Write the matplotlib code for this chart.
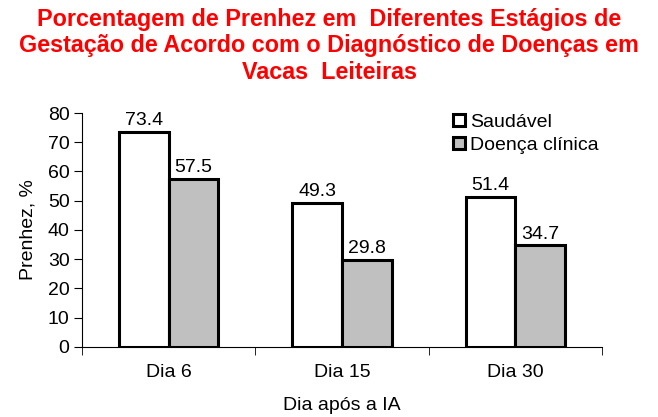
import numpy as np
import matplotlib
matplotlib.use("Agg")
import matplotlib.pyplot as plt

categories = ["Dia 6", "Dia 15", "Dia 30"]
saudavel = [73.4, 49.3, 51.4]
doenca = [57.5, 29.8, 34.7]
series_names = ["Saudável", "Doença clínica"]

plt.rcParams['font.family'] = ['Liberation Sans', 'DejaVu Sans']

fig = plt.figure(figsize=(6.58, 4.17), dpi=100)
ax = fig.add_axes([0.1246, 0.168, 0.7904, 0.561])

x = np.arange(len(categories))
w = 0.286
b1 = ax.bar(x - w / 2, saudavel, w, color='white', edgecolor='black', linewidth=2.2, label=series_names[0])
b2 = ax.bar(x + w / 2, doenca, w, color='#c0c0c0', edgecolor='black', linewidth=2.2, label=series_names[1])

for bars, vals in [(b1, saudavel), (b2, doenca)]:
    for r, v in zip(bars, vals):
        ax.text(r.get_x() + r.get_width() / 2, v + 1.0, f"{v:.1f}", ha='center', va='bottom', fontsize=14)

ax.set_xlim(-0.5, 2.5)
ax.set_ylim(0, 80)
ax.set_yticks(range(0, 81, 10))
ax.set_xticks(x)
ax.set_xticklabels(categories, fontsize=14)
ax.set_xticks([-0.5, 0.5, 1.5, 2.5], minor=True)
ax.tick_params(axis='x', which='major', length=0, pad=12)
ax.tick_params(axis='x', which='minor', length=6, direction='out')
ax.tick_params(axis='y', labelsize=14, length=6, direction='out', pad=3)
for s in ['top', 'right']:
    ax.spines[s].set_visible(False)
ax.set_ylabel("Prenhez, %", fontsize=14, labelpad=8)
ax.set_xlabel("Dia após a IA", fontsize=14, labelpad=12)

ax.legend(loc='upper left', bbox_to_anchor=(0.68, 1.07), frameon=False, fontsize=14,
          handlelength=0.6, handleheight=0.6, handletextpad=0.25, labelspacing=0.3)

fig.text(0.5, 0.982, "Porcentagem de Prenhez em  Diferentes Estágios de\nGestação de Acordo com o Diagnóstico de Doenças em\nVacas  Leiteiras",
         ha='center', va='top', color='red', fontsize=16.8, fontweight='bold', linespacing=1.2)

fig.savefig("out.png", dpi=100)
